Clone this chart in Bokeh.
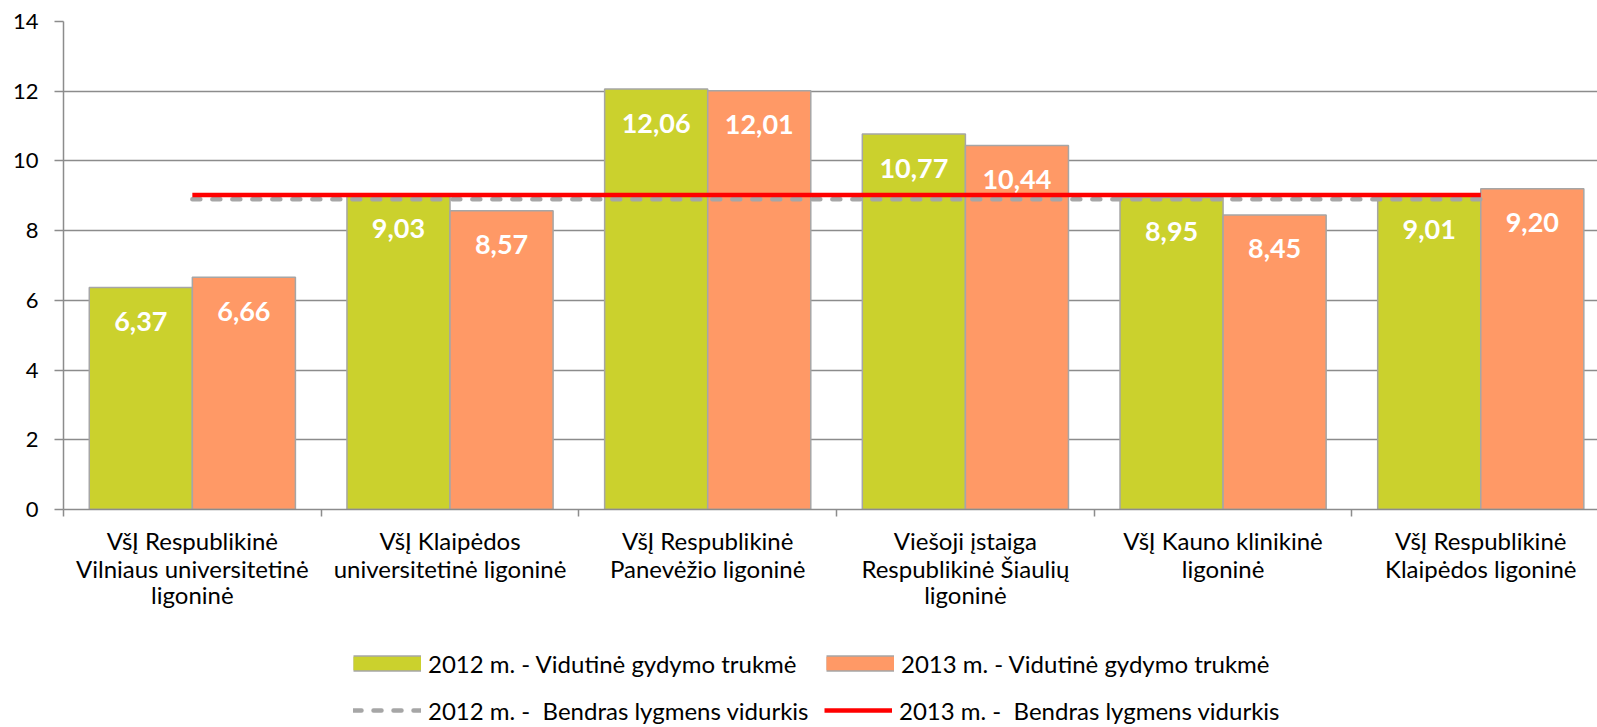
from bokeh.plotting import figure
from bokeh.layouts import column
from bokeh.models import (FixedTicker, LinearAxis, Legend, LegendItem, Range1d,
                          ColumnDataSource)
from bokeh.core.properties import value
from bokeh.embed import file_html
from bokeh.resources import INLINE

# ---- data ----
categories = [
    ["VšĮ Respublikinė", "Vilniaus universitetinė", "ligoninė"],
    ["VšĮ Klaipėdos", "universitetinė ligoninė"],
    ["VšĮ Respublikinė", "Panevėžio ligoninė"],
    ["Viešoji įstaiga", "Respublikinė Šiaulių", "ligoninė"],
    ["VšĮ Kauno klinikinė", "ligoninė"],
    ["VšĮ Respublikinė", "Klaipėdos ligoninė"],
]
values_2012 = [6.37, 9.03, 12.06, 10.77, 8.95, 9.01]
values_2013 = [6.66, 8.57, 12.01, 10.44, 8.45, 9.20]
avg_2012 = 8.90
avg_2013 = 9.02
y_ticks = [0, 2, 4, 6, 8, 10, 12, 14]

series_names = ["2012 m. - Vidutinė gydymo trukmė", "2013 m. - Vidutinė gydymo trukmė"]
line_names = ["2012 m. -  Bendras lygmens vidurkis", "2013 m. -  Bendras lygmens vidurkis"]

GREEN = "#CBD12D"
ORANGE = "#FF9966"
OUTLINE = "#A6A6A6"
GRID = "#8C8C8C"
DASH = "#A6A6A6"
RED = "#FF0000"
FONT = "Lato"

n = len(categories)
centers = [i + 0.5 for i in range(n)]
bounds = list(range(n + 1))
x12 = [c - 0.2 for c in centers]
x13 = [c + 0.2 for c in centers]
fmt = lambda v: f"{v:.2f}".replace(".", ",")

src12 = ColumnDataSource(dict(x=x12, top=values_2012, lab=[fmt(v) for v in values_2012]))
src13 = ColumnDataSource(dict(x=x13, top=values_2013, lab=[fmt(v) for v in values_2013]))

p = figure(width=1597, height=640, x_range=Range1d(0, 5.953), y_range=Range1d(0, 14),
           x_axis_type=None, output_backend="svg", toolbar_location=None,
           min_border_left=63, min_border_right=0, min_border_top=21,
           min_border_bottom=131)
p.outline_line_color = None
p.background_fill_color = "white"

# y axis
yax = p.yaxis[0]
yax.ticker = FixedTicker(ticks=y_ticks)
yax.axis_line_color = GRID
yax.axis_line_width = 1.5
yax.major_tick_line_color = GRID
yax.major_tick_line_width = 1.5
yax.major_tick_out = 9
yax.major_tick_in = 0
yax.minor_tick_line_color = None
yax.major_label_standoff = 16
yax.major_label_text_font = FONT
yax.major_label_text_font_size = "22px"
yax.major_label_text_color = "#000000"
p.ygrid.grid_line_color = GRID
p.ygrid.grid_line_width = 1.5

# x axes: one per label line
standoffs = [9, -4, -6]
max_lines = max(len(c) for c in categories)
for k in range(max_lines):
    ax = LinearAxis(ticker=FixedTicker(ticks=centers, minor_ticks=bounds if k == 0 else []))
    ax.major_label_overrides = {c: (cat[k] if k < len(cat) else "") for c, cat in zip(centers, categories)}
    ax.major_tick_line_color = None
    ax.major_tick_out = 0
    ax.major_tick_in = 0
    if k == 0:
        ax.axis_line_color = GRID
        ax.axis_line_width = 1.5
        ax.minor_tick_line_color = GRID
        ax.minor_tick_line_width = 1.5
        ax.minor_tick_out = 7
        ax.minor_tick_in = 0
    else:
        ax.axis_line_color = None
        ax.minor_tick_line_color = None
    ax.major_label_standoff = standoffs[k]
    ax.major_label_text_font = FONT
    ax.major_label_text_font_size = "24px"
    ax.major_label_text_color = "#000000"
    p.add_layout(ax, "below")

# bars
r12 = p.vbar(x="x", top="top", width=0.4, bottom=0, source=src12,
             fill_color=GREEN, line_color=OUTLINE, line_width=1.5)
r13 = p.vbar(x="x", top="top", width=0.4, bottom=0, source=src13,
             fill_color=ORANGE, line_color=OUTLINE, line_width=1.5)

# average lines
line_x = [centers[0], centers[-1]]
p.line(x=line_x, y=[avg_2012, avg_2012], line_color=DASH, line_width=4.5,
       line_dash="8 12", line_cap="round")
p.line(x=line_x, y=[avg_2013, avg_2013], line_color=RED, line_width=4.5)

# value labels
for s in (src12, src13):
    p.text(x="x", y="top", text="lab", source=s, text_font=value(FONT),
           text_font_style="bold", text_font_size="27px", text_color="white",
           text_align="center", text_baseline="middle", y_offset=34)

# ---- legend strip (legend-only glyphs kept outside its visible range) ----
pl = figure(width=1597, height=87, x_range=Range1d(0, 1), y_range=Range1d(0, 1),
            x_axis_type=None, y_axis_type=None, output_backend="svg",
            toolbar_location=None, min_border=0)
pl.outline_line_color = None
pl.grid.visible = False

off_x = [-10, -9]
off_y = [-10, -10]

def swatch(color):
    edge = pl.line(x=off_x, y=off_y, line_color=OUTLINE, line_width=16.5)
    fill = pl.line(x=off_x, y=off_y, line_color=color, line_width=13.5)
    return [edge, fill]

sw12 = swatch(GREEN)
sw13 = swatch(ORANGE)
ln12 = pl.line(x=off_x, y=off_y, line_color=DASH, line_width=4.5, line_dash="8 12", line_cap="round")
ln13 = pl.line(x=off_x, y=off_y, line_color=RED, line_width=4.5)

def mk_legend(items, loc, label_width, spacing):
    lg = Legend(items=items, location=loc, orientation="horizontal",
                glyph_width=68, glyph_height=36, label_height=36,
                label_standoff=7, label_width=label_width, spacing=spacing,
                padding=0, margin=0, border_line_color=None, background_fill_alpha=0,
                label_text_font=FONT, label_text_font_size="24px",
                label_text_color="#000000")
    pl.add_layout(lg, "center")

mk_legend([LegendItem(label=series_names[0], renderers=sw12),
           LegendItem(label=series_names[1], renderers=sw13)], (290, 46), 390, 8)
mk_legend([LegendItem(label=line_names[0], renderers=[ln12]),
           LegendItem(label=line_names[1], renderers=[ln13])], (290, -1), 390, 6)

layout = column(p, pl, spacing=0)
open("out.html", "w").write(file_html(layout, INLINE))
